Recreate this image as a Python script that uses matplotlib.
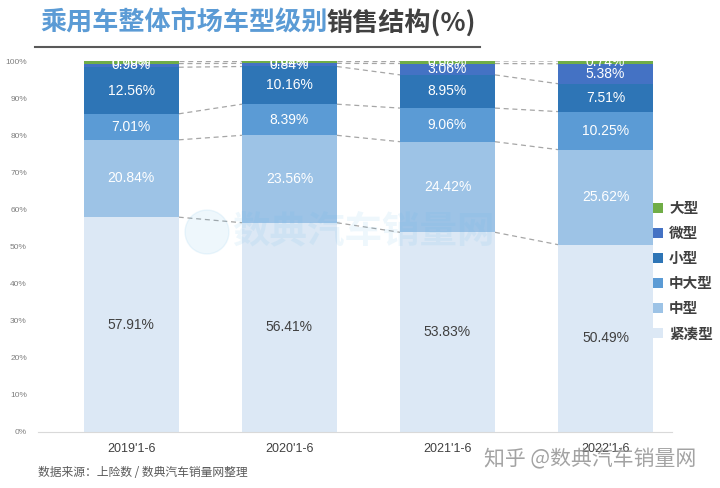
import matplotlib.pyplot as plt
from matplotlib.patches import Ellipse
import numpy as np

plt.rcParams['font.family'] = ['Liberation Sans', 'Noto Sans CJK SC', 'DejaVu Sans']

periods = ["2019'1-6", "2020'1-6", "2021'1-6", "2022'1-6"]
segments = ["紧凑型", "中型", "中大型", "小型", "微型", "大型"]
compact = [57.91, 56.41, 53.83, 50.49]
midsize = [20.84, 23.56, 24.42, 25.62]
upper_mid = [7.01, 8.39, 9.06, 10.25]
small = [12.56, 10.16, 8.95, 7.51]
mini = [0.98, 0.84, 3.06, 5.38]
large = [0.70, 0.64, 0.68, 0.74]

colors = ["#dce8f5", "#9dc3e6", "#5b9bd5", "#2e75b6", "#4472c4", "#70ad47"]
text_colors = ["#404040", "white", "white", "white", "white", "white"]

fig = plt.figure(figsize=(7.2, 4.88), dpi=100)
ax = fig.add_axes([38 / 720, 56 / 488, 634 / 720, 371 / 488])

x = np.arange(len(periods))
w = 0.6
series = [compact, midsize, upper_mid, small, mini, large]
bottom = np.zeros(len(periods))
handles = []
for vals, name, col, tc in zip(series, segments, colors, text_colors):
    vals = np.array(vals)
    b = ax.bar(x, vals, w, bottom=bottom, color=col, label=name, zorder=2)
    handles.append(b)
    top = bottom + vals
    # dashed connectors between bars
    for i in range(len(x) - 1):
        ax.plot([x[i] + w / 2, x[i + 1] - w / 2], [top[i], top[i + 1]],
                ls=(0, (4, 3)), color="#a6a6a6", lw=0.9, zorder=1)
    for i in range(len(x)):
        ax.text(x[i], bottom[i] + vals[i] / 2, f"{vals[i]:.2f}%", ha="center",
                va="center", color=tc, fontsize=10, zorder=3)
    bottom = top

ax.set_xlim(-0.59, 3.42)
ax.set_ylim(0, 100)
ax.set_yticks(range(0, 101, 10))
ax.set_yticklabels([f"{v}%" for v in range(0, 101, 10)], fontsize=6, color="#7f7f7f")
ax.set_xticks(x)
ax.set_xticklabels(periods, fontsize=9, color="#404040")
ax.tick_params(length=0, pad=8)
for s in ["top", "right", "left"]:
    ax.spines[s].set_visible(False)
ax.spines["bottom"].set_color("#d9d9d9")

leg = ax.legend(handles[::-1], segments[::-1], loc="center left",
                bbox_to_anchor=(1.0 - 32 / 634, 0.435), frameon=False,
                handlelength=0.7, handleheight=0.7, labelspacing=0.62,
                handletextpad=0.4, prop={"family": ["Noto Sans CJK SC"], "weight": "bold", "size": 10.5})
for t in leg.get_texts():
    t.set_color("#404040")

# title
fig.text(40 / 720, 1 - 23 / 488, "乘用车整体市场车型级别", fontsize=18.8, fontweight="bold",
         color="#5b9bd5", va="center", family=["Noto Sans CJK SC"])
fig.text(327 / 720, 1 - 23 / 488, "销售结构(%)", fontsize=18.8, fontweight="bold",
         color="#404040", va="center", family=["Noto Sans CJK SC"])
fig.add_artist(plt.Line2D([35 / 720, 480 / 720], [1 - 47 / 488, 1 - 47 / 488],
                          color="#595959", lw=1.5))

# watermarks
fig.add_artist(Ellipse((207 / 720, 1 - 232 / 488), 44 / 720, 44 / 488,
                       transform=fig.transFigure, color="#5bb5e8", alpha=0.1, zorder=5))
fig.text(232 / 720, 1 - 232 / 488, "数典汽车销量网", fontsize=27, fontweight="bold",
         color="#5bb5e8", alpha=0.1, va="center", family=["Noto Sans CJK SC"], zorder=5)
fig.text(484 / 720, 1 - 459 / 488, "知乎 @数典汽车销量网", fontsize=15,
         color="#8c8c8c", alpha=0.8, va="center", family=["Noto Sans CJK SC"])

fig.text(38 / 720, 1 - 472 / 488, "数据来源：上险数 / 数典汽车销量网整理", fontsize=8.5,
         color="#595959", va="center", family=["Noto Sans CJK SC"])

fig.savefig("out.png", dpi=100)
